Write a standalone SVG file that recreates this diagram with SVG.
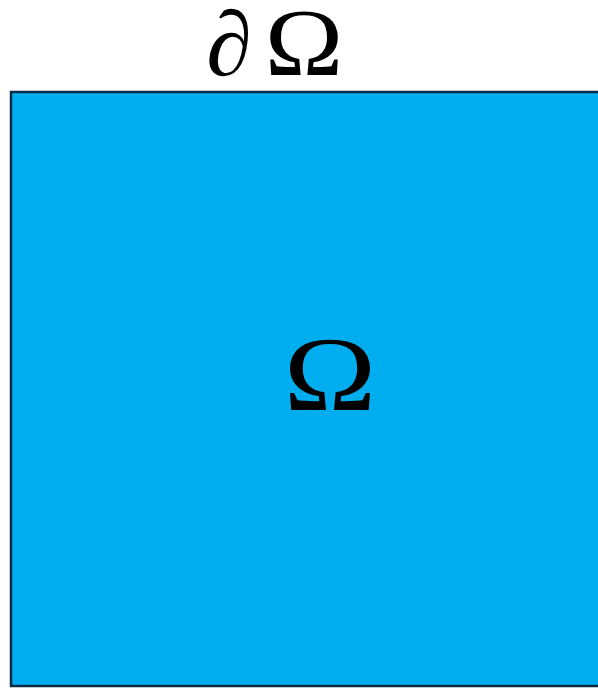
<svg xmlns="http://www.w3.org/2000/svg" width="598" height="688" viewBox="0 0 598 688">
<style>
.t{font-family:"Liberation Serif","DejaVu Serif",serif;fill:#000}
</style>
<rect width="598" height="688" fill="#fff"/>
<g id="domain">
<rect x="11" y="92" width="600" height="594" fill="#00aeef" stroke="#0b2a44" stroke-width="2.5"/>
<text class="t" font-size="106" text-anchor="middle" transform="translate(330 410) scale(1.18 1)">Ω</text>
</g>
<g id="boundary">
<text class="t" x="229" y="75" font-size="92" text-anchor="middle">∂</text>
<text class="t" font-size="96" text-anchor="middle" transform="translate(304 75) scale(1.1 1)">Ω</text>
</g>
</svg>
